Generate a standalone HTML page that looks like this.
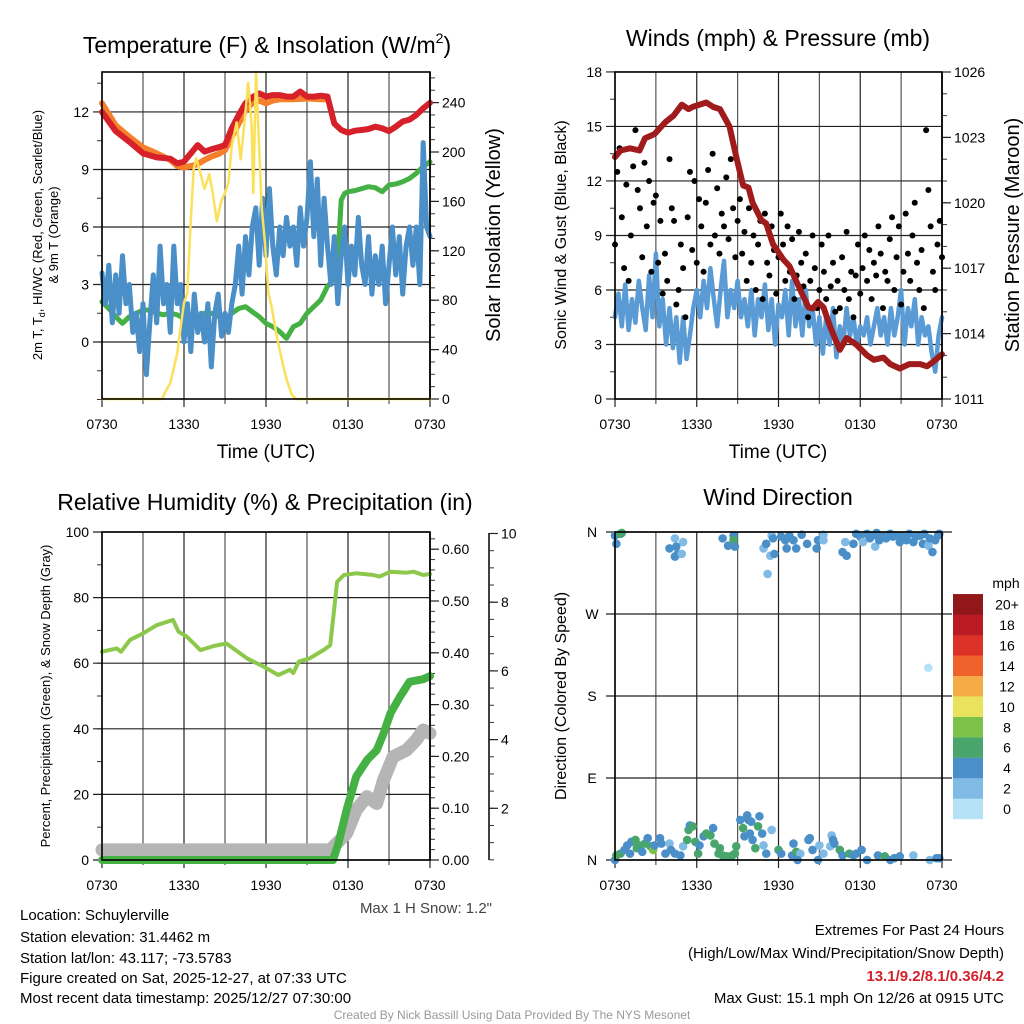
<!DOCTYPE html>
<html><head><meta charset="utf-8"><style>
html,body{margin:0;padding:0;background:#fff;}
svg{display:block;font-family:"Liberation Sans",sans-serif;}
</style></head><body>
<svg id="fig" width="1024" height="1024" viewBox="0 0 1024 1024" xmlns="http://www.w3.org/2000/svg">
<rect x="0" y="0" width="1024" height="1024" fill="#fff"/>
<g id="layer"></g>
<g font-size="23" fill="#000" text-anchor="middle">
<text x="267" y="53">Temperature (F) &amp; Insolation (W/m<tspan font-size="14" dy="-10">2</tspan><tspan dy="10">)</tspan></text>
<text x="778" y="46">Winds (mph) &amp; Pressure (mb)</text>
<text x="265" y="510">Relative Humidity (%) &amp; Precipitation (in)</text>
<text x="778" y="505">Wind Direction</text>
</g>
<g font-size="19" text-anchor="middle">
<text x="266" y="458">Time (UTC)</text>
<text x="778" y="458">Time (UTC)</text>
<text transform="translate(500,235) rotate(-90)" font-size="20">Solar Insolation (Yellow)</text>
<text transform="translate(1019,235) rotate(-90)" font-size="20">Station Pressure (Maroon)</text>
<text transform="translate(566,235) rotate(-90)" font-size="16">Sonic Wind &amp; Gust (Blue, Black)</text>
<text transform="translate(566,696) rotate(-90)" font-size="16">Direction (Colored By Speed)</text>
<text transform="translate(42,235) rotate(-90)" font-size="13">2m T, T<tspan font-size="9" dy="3">d</tspan><tspan dy="-3">, HI/WC (Red, Green, Scarlet/Blue)</tspan></text>
<text transform="translate(58,235) rotate(-90)" font-size="13">&amp; 9m T (Orange)</text>
<text transform="translate(50,696) rotate(-90)" font-size="13">Percent, Precipitation (Green), &amp; Snow Depth (Gray)</text>
</g>
<text x="1006" y="588" font-size="14" text-anchor="middle">mph</text>
<text x="492" y="913" font-size="15" fill="#444" text-anchor="end">Max 1 H Snow: 1.2"</text>
<g font-size="15" fill="#000">
<text x="20" y="920">Location: Schuylerville</text>
<text x="20" y="942">Station elevation: 31.4462 m</text>
<text x="20" y="963">Station lat/lon: 43.117; -73.5783</text>
<text x="20" y="983">Figure created on Sat, 2025-12-27, at 07:33 UTC</text>
<text x="20" y="1003">Most recent data timestamp: 2025/12/27 07:30:00</text>
</g>
<g font-size="15" text-anchor="end">
<text x="1004" y="935">Extremes For Past 24 Hours</text>
<text x="1004" y="958">(High/Low/Max Wind/Precipitation/Snow Depth)</text>
<text x="1004" y="981" fill="#d3212c" font-weight="bold">13.1/9.2/8.1/0.36/4.2</text>
<text x="1004" y="1003">Max Gust: 15.1 mph On 12/26 at 0915 UTC</text>
</g>
<text x="512" y="1019" font-size="12" fill="#999" text-anchor="middle">Created By Nick Bassill Using Data Provided By The NYS Mesonet</text>
</svg>
<script>
// ---------- data ----------
const timeLabels = ["0730","1330","1930","0130","0730"];
const tempTicks = [0,3,6,9,12];
const solarTicks = [0,40,80,120,160,200,240];
const windTicks = [0,3,6,9,12,15,18];
const presTicks = [1011,1014,1017,1020,1023,1026];
const rhTicks = [0,20,40,60,80,100];
const precipTicks = [0,0.1,0.2,0.3,0.4,0.5,0.6];
const snowTicks = [2,4,6,8,10];
const dirLabels = ["N","E","S","W","N"];
const speedBins = ["0","2","4","6","8","10","12","14","16","18","20+"];
const speedColors = ["#b6e2f8","#7fbbe5","#4a8fc7","#48a66d","#7cc24a","#e8e35a","#f6ab47","#f0622c","#dc3127","#bb1b24","#91171a"];

const redT = [0,1,2,3,4,5,5.5,6,6.5,7,7.5,8,8.5,9,9.5,10,10.5,11,11.5,12,12.5,13,13.5,14,14.5,15,15.5,16,16.5,17,17.5,18,18.5,19,19.5,20,20.5,21,21.5,22,22.5,23,23.5,24];
const redV = [12.0,11.0,10.45,9.84,9.63,9.56,9.32,9.41,9.84,10.27,9.93,10.05,10.15,10.27,11.15,11.84,12.45,12.76,12.97,12.8,12.88,12.88,12.8,12.8,13.06,12.8,12.8,12.85,12.8,11.4,11.06,10.92,11.02,11.06,11.11,11.23,11.15,11.0,11.23,11.5,11.6,11.84,12.19,12.48];
const orangeT = [0,1,2,3,4,5,5.5,6,6.5,7,7.5,8,8.5,9,9.5,10,10.5,11,11.5,12,12.5,13,14,15,16,16.5];
const orangeV = [12.45,11.3,10.7,10.15,9.84,9.5,9.18,9.11,9.18,9.28,9.5,9.67,9.8,10.0,10.7,11.4,12.1,12.45,12.6,12.45,12.6,12.66,12.66,12.7,12.66,12.66];
const greenT = [0,0.5,1,1.5,2,2.5,3,3.5,4,4.5,5,5.5,6,6.5,7,7.5,8,8.5,9,9.5,10,10.5,11,11.5,12,12.5,13,13.5,14,14.5,15,15.5,16,16.5,17,17.25,17.5,17.75,18,18.5,19,19.5,20,20.5,21,21.5,22,22.5,23,23.5,24];
const greenV = [2.1,1.75,1.32,0.97,1.32,1.5,1.67,1.67,1.5,1.42,1.5,1.42,1.23,1.15,1.32,1.5,1.5,1.32,1.15,1.5,1.75,1.84,1.58,1.32,0.97,0.8,0.54,0.19,0.8,0.97,1.5,1.84,2.19,2.9,3.3,4.3,7.4,7.75,7.84,7.9,8.0,8.1,8.05,7.84,8.19,8.24,8.36,8.53,8.8,9.15,9.4];
const wcV = [3.6,2.0,4.0,1.0,3.5,1.5,4.5,2.0,3.0,0.5,1.5,-0.5,2.0,-1.7,1.0,3.5,1.0,5.0,2.0,3.0,0.5,5.0,2.0,3.0,0.0,2.0,-0.5,2.5,0.5,1.5,0.0,2.0,-1.3,1.5,2.5,0.3,1.5,0.5,2.0,3.0,5.0,2.5,5.5,3.5,6.0,7.0,4.0,7.5,4.5,8.0,5.0,3.5,6.0,4.5,6.5,5.0,6.0,4.0,7.0,5.0,6.5,9.4,5.5,8.5,4.0,7.5,5.0,3.0,5.5,2.0,4.5,6.0,3.0,5.0,3.5,6.5,4.0,3.0,5.5,2.5,4.5,3.0,5.0,2.0,4.0,6.0,3.5,5.5,2.5,5.0,6.0,4.0,6.0,3.0,10.4,6.0,5.5];
const solarT = [0,4.4,4.6,5.0,5.5,6.0,6.25,6.45,6.7,6.9,7.2,7.5,7.85,8.1,8.4,8.75,9.0,9.25,9.5,9.85,10.15,10.4,10.7,10.95,11.07,11.27,11.44,11.68,11.93,12.17,12.4,12.78,13.15,13.5,13.9,14.25,24];
const solarV = [0,0,5,13,37,78,86,134,186,195,183,170,182,167,144,161,167,175,205,224,194,221,256,221,167,265,221,156,126,86,75,51,32,16,3,0,0];

const windV = [4.5,5.8,4.0,6.3,3.8,5.5,4.2,6.5,5.0,3.8,6.8,4.5,8.0,4.0,5.5,3.0,5.0,2.8,4.5,2.0,4.5,2.2,3.5,5.0,6.0,4.5,6.5,5.0,7.2,5.5,4.0,6.0,7.6,4.5,6.0,5.0,6.5,4.5,5.5,4.0,6.0,3.5,5.5,4.5,6.3,3.8,5.5,3.0,5.2,4.5,6.0,3.5,6.5,4.0,5.5,3.5,6.0,4.0,5.0,3.0,4.5,2.5,4.5,3.0,5.0,2.3,4.0,3.0,5.0,3.5,4.5,3.0,4.0,3.5,4.5,3.0,4.0,5.0,3.5,4.5,3.0,5.0,3.5,4.5,6.0,3.0,5.0,4.0,5.5,3.0,4.5,3.5,4.0,2.5,1.5,3.5,4.5];
const gustV = [8.5,12.5,13.8,10.0,7.2,11.8,6.5,9.0,12.8,14.8,11.5,10.5,7.8,13.0,9.5,12.0,7.0,10.8,11.2,7.5,9.8,5.8,8.0,6.5,13.2,10.5,9.8,5.2,6.0,8.5,7.2,4.5,10.0,12.5,8.2,12.0,7.5,11.0,9.5,7.0,10.8,12.6,8.5,13.5,9.0,11.6,8.0,10.2,9.5,12.2,8.8,13.2,10.5,7.8,9.8,11.0,8.0,9.2,6.5,10.5,7.5,9.0,6.0,8.5,9.8,5.5,10.2,7.5,6.8,9.5,8.2,5.8,7.8,10.2,8.5,6.5,9.5,7.0,8.8,5.5,6.8,9.2,7.5,6.2,8.0,4.5,6.5,9.0,7.2,5.0,6.0,8.5,7.0,5.5,9.0,6.2,7.5,4.8,6.5,5.0,7.8,6.0,9.2,5.5,7.0,4.5,6.8,8.5,5.8,7.2,9.0,6.5,8.2,5.5,7.5,6.8,9.5,8.0,5.0,7.0,6.5,8.8,10.0,6.0,7.8,9.5,5.2,7.0,10.2,8.0,6.5,9.0,10.8,7.5,6.0,8.2,5.0,14.8,11.5,9.5,7.0,6.0,8.5,9.8,7.8];
const presT = [0,0.4,1.1,1.8,2.2,2.9,3.7,4.3,4.9,5.4,5.7,6.7,7.2,7.7,8.4,8.9,9.4,9.8,10.1,10.75,11.1,11.6,12.35,12.8,13.6,14.2,14.5,14.9,15.3,15.8,16.5,17.0,17.7,18.5,19.0,19.7,20.2,20.9,21.6,22.4,22.9,23.35,24];
const presV = [1022.1,1022.4,1022.5,1022.4,1022.96,1023.15,1023.7,1024.0,1024.5,1024.3,1024.4,1024.6,1024.4,1024.3,1023.5,1022.1,1020.8,1020.7,1020.0,1019.2,1019.05,1018.1,1017.4,1017.1,1016.0,1015.2,1015.15,1015.45,1015.2,1014.3,1013.25,1013.8,1013.5,1013.0,1012.8,1012.9,1012.6,1012.4,1012.6,1012.6,1012.5,1012.7,1013.05];

const rhT = [0,1.07,1.4,2.05,3.0,4.0,5.2,5.6,6.2,7.2,8.15,9.1,9.6,10.6,11.8,12.9,13.75,14.0,14.4,15.2,16.2,16.7,16.9,17.2,17.7,18.6,19.85,20.3,21.1,22.3,22.8,23.5,24];
const rhV = [63.5,64.5,63.5,67.1,69.1,71.6,73.2,69.6,68.1,64.0,65.2,66.0,64.5,61.5,59.0,56.4,58.0,57.0,60.5,61.5,64.0,65.5,73.2,84.8,86.9,87.4,86.9,86.4,87.9,87.6,87.9,86.9,87.2];
const precipT = [0,16.9,17.3,17.9,18.6,19.4,20.1,20.6,21.1,21.8,22.5,23.5,24];
const precipV = [0,0,0.032,0.097,0.161,0.193,0.212,0.244,0.283,0.315,0.344,0.349,0.355];
const snowT = [0,16.7,17.9,18.6,19.4,20.1,20.6,21.3,22.3,23.0,23.5,24];
const snowV = [0.79,0.79,1.27,1.95,2.34,2.14,2.82,3.5,3.7,3.99,4.28,4.18];

const dirT = [0,0.1,0.4,0.5,4.0,4.4,4.5,4.6,4.4,4.9,5.0,7.9,8.3,8.7,8.7,8.8,10.9,11.1,11.4,11.2,11.5,11.7,11.6,12.2,12.5,12.6,12.8,13.1,13.3,13.7,14.1,14.8,14.9,15.3,15.3,16.7,17.0,16.9,17.5,17.7,18.0,18.2,18.5,18.7,18.9,19.1,19.2,19.4,19.7,19.9,20.2,20.4,20.7,20.9,21.1,21.4,21.6,21.9,22.1,22.4,22.6,22.7,23.0,23.1,23.3,23.5,23.7,23.8,23.0,
0.0,0.1,0.4,0.7,0.9,1.1,1.2,1.5,1.6,1.8,2.0,2.2,2.4,2.6,2.8,2.9,3.3,3.4,3.7,4.0,4.1,4.4,4.8,5.0,5.3,5.4,5.5,5.7,5.9,6.1,6.2,6.5,6.7,7.0,7.2,7.3,7.6,7.7,7.9,8.2,8.6,8.8,8.9,9.2,9.4,9.7,9.8,9.5,9.9,10.0,10.1,10.3,10.5,10.6,10.8,10.9,11.1,11.5,12.0,12.2,13.0,13.1,13.3,13.6,13.4,14.2,14.3,14.5,14.9,15.0,15.3,15.8,15.9,16.0,16.1,16.5,16.7,17.2,17.5,17.7,18.1,18.5,19.3,19.8,20.2,20.5,20.9,21.9,23.1,23.6,23.8];
const dirV = [356,347,358,359,342,353,344,336,333,336,349,353,345,356,351,344,342,347,334,314,356,336,353,355,351,342,356,351,342,357,347,342,351,357,351,338,334,349,347,358,355,349,358,353,356,344,359,351,356,353,358,355,356,349,355,351,358,349,355,356,347,358,345,353,338,351,356,358,211,
0,5,7,11,16,7,20,22,13,16,9,18,24,15,11,16,24,18,7,18,11,7,5,15,22,33,38,37,20,7,16,26,29,27,35,18,7,13,5,4,5,7,15,44,35,49,44,26,29,42,22,13,37,48,29,16,7,33,11,7,5,18,9,7,0,22,24,11,0,16,7,15,27,22,18,11,5,7,5,7,11,0,5,4,0,2,4,5,0,2,2];
const dirSpd = [4.5,4.5,6.5,6.5,4.5,2.5,4.5,4.5,4.5,2.5,2.5,4.5,4.5,4.5,6.5,4.5,2.5,4.5,2.5,2.5,2.5,4.5,4.5,4.5,4.5,4.5,4.5,4.5,4.5,4.5,4.5,4.5,4.5,2.5,2.5,4.5,4.5,2.5,4.5,4.5,4.5,2.5,4.5,4.5,4.5,2.5,4.5,4.5,4.5,4.5,4.5,4.5,4.5,4.5,4.5,4.5,4.5,4.5,4.5,4.5,4.5,4.5,2.5,4.5,4.5,4.5,4.5,4.5,1,
4.5,6.5,6.5,4.5,4.5,4.5,4.5,6.5,6.5,6.5,4.5,6.5,4.5,6.5,8.5,4.5,4.5,4.5,4.5,2.5,4.5,4.5,4.5,2.5,6.5,6.5,4.5,6.5,6.5,6.5,4.5,4.5,6.5,6.5,4.5,6.5,6.5,6.5,6.5,6.5,6.5,6.5,6.5,4.5,6.5,4.5,4.5,4.5,4.5,4.5,4.5,6.5,6.5,4.5,4.5,2.5,4.5,2.5,6.5,4.5,4.5,4.5,6.5,2.5,4.5,4.5,4.5,4.5,4.5,2.5,2.5,2.5,2.5,4.5,4.5,6.5,4.5,6.5,4.5,4.5,4.5,4.5,4.5,6.5,4.5,4.5,4.5,2.5,2.5,4.5,4.5];

// ---------- scales ----------
const xL = t => 102 + t*328/24;
const xR = t => 615 + t*327/24;
const yTemp = v => 342 - v*19.17;
const ySolar = v => 399 - v*1.235;
const yWind = v => 399 - v*18.17;
const yPres = p => 399 - (p-1011)*21.8;
const yRH = v => 860 - v*3.28;
const yPrecip = p => 860 - p*518;
const ySnow = s => 877 - s*34.35;
const yDir = d => 860 - d*328/360;

const NS = "http://www.w3.org/2000/svg";
const layer = document.getElementById('layer');
function mk(tag, attrs, parent){
  const e = document.createElementNS(NS, tag);
  for (const k in attrs) e.setAttribute(k, attrs[k]);
  (parent||layer).appendChild(e);
  return e;
}
function pathD(ts, vs, fx, fy){
  return ts.map((t,i)=>(i?'L':'M')+fx(t).toFixed(1)+','+fy(vs[i]).toFixed(1)).join('');
}
function idxT(arr, step){ return arr.map((_,i)=>i*step); }

// ---------- frames, grids, ticks ----------
function frame(name, x0, x1, y0, y1, xf, yTicksArr, yf, minorStep, yMin, yMax, labels){
  for (let h=0; h<=24; h+=3){
    const g = mk('line',{x1:xf(h),x2:xf(h),y1:y0,y2:y1+(h%6===0?8:5),stroke:(h%6===0?'#222':'#555'),'stroke-width':1.2});
    
    
  }
  timeLabels.forEach((lab,i)=>{
    const tx = mk('text',{x:xf(i*6),y:y1+30,'font-size':14,'text-anchor':'middle'});
    tx.textContent = lab;
    
    
  });
  if (!labels){
    for (let v=yMin; v<=yMax+1e-9; v+=minorStep){
      const tk = mk('line',{x1:x0-5,x2:x0,y1:yf(v),y2:yf(v),stroke:'#333','stroke-width':1});
      
      
    }
  }
  yTicksArr.forEach((v,i)=>{
    const g = mk('line',{x1:x0-9,x2:x1+(labels?10:0),y1:yf(v),y2:yf(v),stroke:'#222','stroke-width':1.2});
    
    
    const tx = mk('text',{x:labels?x0-23:x0-13,y:yf(v)+5,'font-size':14,'text-anchor':labels?'middle':'end'});
    tx.textContent = labels ? labels[i] : v;
    
    
  });
}
function rightAxis(name, x, ticks, yf, minorStep, vMin, vMax, fmt, spineTop, spineBot){
  const s = mk('line',{x1:x,x2:x,y1:spineTop,y2:spineBot,stroke:'#000','stroke-width':1.5});
  
  
  for (let v=vMin; v<=vMax+1e-9; v+=minorStep){
    const tk = mk('line',{x1:x,x2:x+5,y1:yf(v),y2:yf(v),stroke:'#333','stroke-width':1});
    
    
  }
  ticks.forEach(v=>{
    const tk = mk('line',{x1:x,x2:x+9,y1:yf(v),y2:yf(v),stroke:'#222','stroke-width':1.2});
    
    
    const tx = mk('text',{x:x+12,y:yf(v)+5,'font-size':14});
    tx.textContent = fmt(v);
    
    
  });
}
function box(name,x0,y0,x1,y1){
  const r = mk('rect',{x:x0,y:y0,width:x1-x0,height:y1-y0,fill:'none',stroke:'#000','stroke-width':1.6});
  
  
}

// Panel 1
frame('temp',102,430,72,399,xL,tempTicks,yTemp,1.5,-3,14.3);
rightAxis('solar',430,solarTicks,ySolar,10,0,260,v=>v,72,399);
// Panel 2
frame('wind',615,942,72,399,xR,windTicks,yWind,1.5,0,18);
rightAxis('pressure',942,presTicks,yPres,1,1011,1026,v=>v,72,399);
// Panel 3
frame('rh',102,430,532,860,xL,rhTicks,yRH,10,0,100);
rightAxis('precip',430,precipTicks,yPrecip,0.02,0,0.62,v=>v.toFixed(2),532,860);
rightAxis('snow',489,snowTicks,ySnow,0.5,0.5,10,v=>v,533,860);
// Panel 4
frame('wdir',615,942,532,860,xR,[0,90,180,270,360],yDir,90,0,360,dirLabels);

// ---------- series ----------
function line(ts, vs, fx, fy, color, w){
  return mk('path',{d:pathD(ts,vs,fx,fy),fill:'none',stroke:color,'stroke-width':w,'stroke-linejoin':'round','stroke-linecap':'round'});
}
let s;
s = line(orangeT, orangeV, xL, yTemp, '#f57f2a', 6);


s = line(redT, redV, xL, yTemp, '#d6202a', 6);


s = line(greenT, greenV, xL, yTemp, '#45b145', 5);


s = line(idxT(wcV,24/(wcV.length-1)), wcV, xL, yTemp, '#4a8fc8', 5);


s = line(solarT, solarV, xL, ySolar, '#fbe05a', 2.5);



s = line(idxT(windV,24/(windV.length-1)), windV, xR, yWind, '#5a9bd5', 4.5);


const gT = idxT(gustV,24/(gustV.length-1));
gustV.forEach((v,i)=>{
  const c = mk('circle',{cx:xR(gT[i]),cy:yWind(v),r:3,fill:'#000'});
  
  
});
s = line(presT, presV, xR, yPres, '#a01c1c', 6);



s = line(snowT, snowV, xL, ySnow, '#b5b5b5', 13);


s = line(precipT, precipV, xL, yPrecip, '#45b145', 8);


s = line(rhT, rhV, xL, yRH, '#8cc84b', 4);



dirV.forEach((d,i)=>{
  const bin = Math.min(10, Math.floor(dirSpd[i]/2));
  const c = mk('circle',{cx:xR(dirT[i]),cy:yDir(d),r:4.3,fill:speedColors[bin]});
  
  
});

// colorbar
speedBins.forEach((lab,i)=>{
  const y = 819 - (i+1)*20.45;
  const r = mk('rect',{x:953,y:y,width:30,height:20.6,fill:speedColors[i]});
  
  
  const tx = mk('text',{x:1007,y:y+15.5,'font-size':14,'text-anchor':'middle'});
  tx.textContent = lab;
  
  
});

// frames on top
box('temp',102,72,430,399);
box('wind',615,72,942,399);
box('rh',102,532,430,860);
box('wdir',615,532,942,860);
</script>
</body></html>
